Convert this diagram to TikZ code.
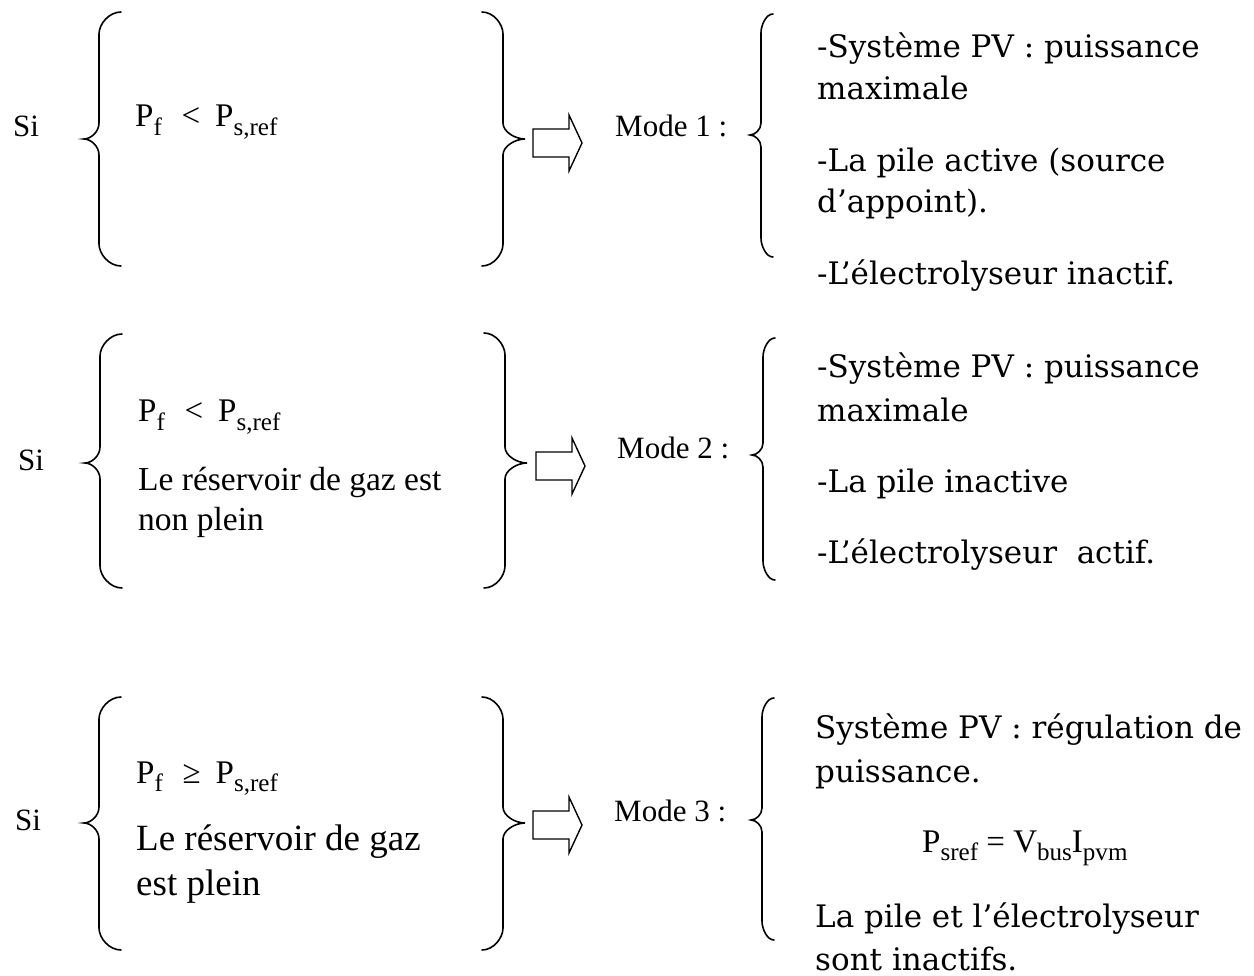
\documentclass[tikz,border=0pt]{standalone}
\usepackage{fontspec}
\usepackage{graphicx}
\setmainfont{Liberation Serif}
\newfontfamily\bookfont{DejaVu Serif}

% lowered, reduced subscript set in the running text font
\newcommand{\lowsub}[1]{\raisebox{-0.27em}{\scalebox{0.76}{#1}}}

% curly brace: spine x, top y, tip y, bottom y,
% end offset, tip offset, end curl height, tip curl height
\newcommand{\bracepath}[8]{%
  \draw[bracestroke]
    ({#1+(#5)},#2)
      .. controls ({#1+0.45*(#5)},#2) and (#1,{#2+0.55*(#7)}) .. (#1,{#2+(#7)})
    -- (#1,{#3-(#8)})
      .. controls (#1,{#3-0.45*(#8)}) and ({#1+0.55*(#6)},#3) .. ({#1+(#6)},#3)
      .. controls ({#1+0.55*(#6)},#3) and (#1,{#3+0.45*(#8)}) .. (#1,{#3+(#8)})
    -- (#1,{#4-(#7)})
      .. controls (#1,{#4-0.55*(#7)}) and ({#1+0.45*(#5)},#4) .. ({#1+(#5)},#4);
}

% hollow block arrow: left x, centre y
\newcommand{\blockarrow}[2]{%
  \draw[arrowstroke]
    (#1,{#2-14}) -- ({#1+36},{#2-14}) -- ({#1+36},{#2-28}) -- ({#1+49},#2)
    -- ({#1+36},{#2+28}) -- ({#1+36},{#2+14}) -- (#1,{#2+14}) -- cycle;
}

\tikzset{
  bracestroke/.style={line width=1.6pt, line cap=round},
  arrowstroke/.style={line width=1.4pt, line join=miter},
  sitext/.style={anchor=base west, inner sep=0pt, font=\fontsize{31}{36}\selectfont},
  modetext/.style={anchor=base west, inner sep=0pt, font=\fontsize{31}{36}\selectfont},
  mathtext/.style={anchor=base west, inner sep=0pt, font=\fontsize{33}{38}\selectfont},
  condtext/.style={anchor=base west, inner sep=0pt, font=\fontsize{33.5}{38}\selectfont},
  condbig/.style={anchor=base west, inner sep=0pt, font=\fontsize{37}{42}\selectfont},
  listtext/.style={anchor=base west, inner sep=0pt, font=\bookfont\fontsize{31}{36}\selectfont},
  eqtext/.style={anchor=base west, inner sep=0pt, font=\fontsize{33}{38}\selectfont},
}

\begin{document}
\begin{tikzpicture}[x=1pt,y=-1pt]
\useasboundingbox[fill=white] (0,0) rectangle (1254,976);

% ---------- Mode 1 ----------
\node[sitext] (si1) at (13,137) {Si};
\bracepath{99}{12}{139}{266}{22}{-15}{22}{16}
\node[mathtext] (c1a) at (135,127) {P\lowsub{f}\hspace{0.6em}<\hspace{0.45em}P\lowsub{s,ref}};
\bracepath{503}{12}{139}{266}{-21}{22}{22}{16}
\blockarrow{533}{143}
\node[modetext] (m1) at (615,137) {Mode 1 :};
\bracepath{761}{14}{135}{257}{12}{-11}{19}{12}
\node[listtext] (r1a) at (817,58)  {-Système PV : puissance};
\node[listtext] (r1b) at (817,100) {maximale};
\node[listtext] (r1c) at (817,172) {-La pile active (source};
\node[listtext] (r1d) at (817,213) {d’appoint).};
\node[listtext] (r1e) at (817,285) {-L’électrolyseur inactif.};

% ---------- Mode 2 ----------
\node[sitext] (si2) at (18,470) {Si};
\bracepath{100}{334}{463}{588}{22}{-15}{22}{16}
\node[mathtext] (c2a) at (138,422) {P\lowsub{f}\hspace{0.6em}<\hspace{0.45em}P\lowsub{s,ref}};
\node[condtext] (c2b) at (138,490) {Le réservoir de gaz est};
\node[condtext] (c2c) at (138,530) {non plein};
\bracepath{505}{333}{463}{588}{-21}{22}{22}{16}
\blockarrow{536}{466}
\node[modetext] (m2) at (617,458) {Mode 2 :};
\bracepath{763}{338}{455}{580}{12}{-11}{19}{12}
\node[listtext] (r2a) at (817,378) {-Système PV : puissance};
\node[listtext] (r2b) at (817,422) {maximale};
\node[listtext] (r2c) at (817,493) {-La pile inactive};
\node[listtext] (r2d) at (817,563) {-L’électrolyseur\ \ actif.};

% ---------- Mode 3 ----------
\node[sitext] (si3) at (15,830) {Si};
\bracepath{99}{697}{823}{950}{22}{-15}{22}{16}
\node[mathtext] (c3a) at (136,783) {P\lowsub{f}\hspace{0.6em}≥\hspace{0.45em}P\lowsub{s,ref}};
\node[condbig] (c3b) at (136,850) {Le réservoir de gaz};
\node[condbig] (c3c) at (136,895) {est plein};
\bracepath{503}{697}{823}{950}{-21}{22}{22}{16}
\blockarrow{533}{825}
\node[modetext] (m3) at (614,821) {Mode 3 :};
\bracepath{762}{698}{820}{940}{12}{-11}{19}{12}
\node[listtext] (r3a) at (815,738) {Système PV : régulation de};
\node[listtext] (r3b) at (815,782) {puissance.};
\node[eqtext]   (r3c) at (922,852) {P\lowsub{sref} = V\lowsub{bus}I\lowsub{pvm}};
\node[listtext] (r3d) at (815,927) {La pile et l’électrolyseur};
\node[listtext] (r3e) at (815,970) {sont inactifs.};
\end{tikzpicture}
\end{document}
